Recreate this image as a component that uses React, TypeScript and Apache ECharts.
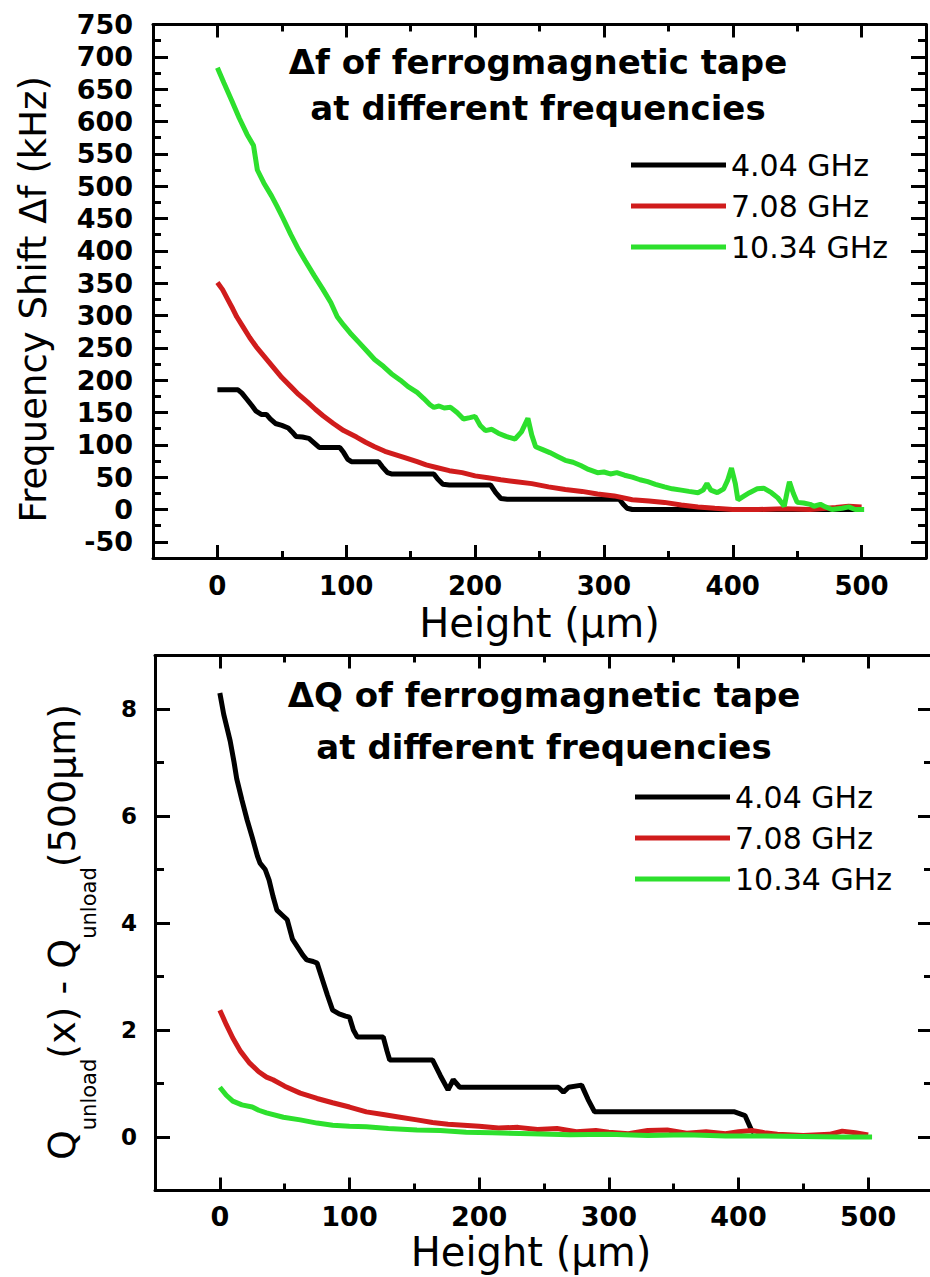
import React, { useEffect, useRef } from 'react';
import * as echarts from 'echarts';

const seriesNames = ['4.04 GHz', '7.08 GHz', '10.34 GHz'];
const seriesColors = ['#000000', '#d01c1c', '#2de02d'];

const xLabelValues = [0, 100, 200, 300, 400, 500];
const dfLabelValues = [-50, 0, 50, 100, 150, 200, 250, 300, 350, 400, 450, 500, 550, 600, 650, 700, 750];
const dqLabelValues = [0, 2, 4, 6, 8];

// Δf (kHz) vs height (µm)
const df404 = [
  [0, 185], [16, 185], [19, 180], [23, 170], [27, 160], [30, 152], [34, 147], [38, 147], [41, 140], [45, 133],
  [50, 130], [55, 126], [58, 120], [61, 113], [66, 112], [71, 110], [75, 103], [79, 96], [95, 96], [98, 88],
  [101, 78], [104, 74], [125, 74], [128, 66], [132, 57], [135, 55], [168, 55], [171, 47], [175, 39], [180, 38],
  [212, 38], [216, 26], [220, 17], [225, 16], [312, 16], [315, 8], [318, 2], [322, 0], [500, 0],
];
const df708 = [
  [0, 351], [4, 340], [8, 325], [12, 310], [15, 298], [20, 282], [25, 266], [30, 252], [35, 240], [40, 228],
  [45, 216], [50, 204], [57, 190], [63, 178], [70, 166], [76, 155], [82, 145], [90, 133], [98, 122], [108, 112],
  [115, 104], [122, 97], [130, 90], [138, 85], [146, 80], [155, 74], [162, 69], [170, 65], [180, 60], [190, 57],
  [200, 52], [210, 49], [220, 46], [232, 43], [244, 40], [257, 35], [270, 31], [283, 28], [295, 24], [308, 21],
  [322, 15], [335, 13], [347, 11], [360, 7], [373, 4], [386, 2], [400, 0], [420, 0], [440, 1], [460, 0],
  [480, 3], [490, 5], [500, 4],
];
const df1034 = [
  [0, 683], [5, 660], [11, 633], [17, 605], [23, 580], [28, 563], [31, 525], [36, 505], [42, 485], [46, 470],
  [51, 450], [57, 425], [63, 402], [68, 385], [75, 362], [82, 340], [88, 320], [93, 298], [98, 285], [103, 273],
  [110, 258], [116, 245], [122, 232], [129, 221], [135, 210], [142, 200], [148, 190], [155, 181], [160, 172], [165, 162],
  [168, 158], [172, 160], [176, 157], [181, 158], [186, 150], [191, 140], [196, 142], [200, 144], [204, 130], [208, 122],
  [213, 124], [218, 118], [224, 113], [231, 109], [236, 120], [241, 141], [244, 115], [247, 97], [252, 93], [258, 88],
  [264, 82], [270, 76], [276, 73], [282, 68], [288, 62], [295, 57], [300, 58], [305, 55], [310, 57], [316, 53],
  [322, 50], [328, 46], [334, 43], [340, 39], [347, 35], [353, 32], [360, 30], [366, 28], [373, 26], [377, 30],
  [380, 40], [383, 30], [388, 26], [393, 32], [396, 45], [399, 64], [402, 40], [404, 15], [408, 20], [413, 26],
  [419, 32], [424, 33], [430, 26], [435, 18], [440, 5], [442, 25], [444, 43], [447, 25], [450, 11], [455, 10],
  [460, 8], [463, 5], [468, 8], [472, 4], [477, 0], [485, 2], [490, 4], [495, 0], [502, 0],
];

// ΔQ vs height (µm)
const dq404 = [
  [0, 8.3], [3, 7.9], [6, 7.6], [8, 7.4], [11, 7.0], [13, 6.7], [17, 6.3], [21, 5.93], [25, 5.6], [29, 5.25],
  [31, 5.12], [35, 5.0], [38, 4.8], [41, 4.5], [44, 4.24], [48, 4.15], [52, 4.06], [56, 3.7], [60, 3.55], [64, 3.4],
  [67, 3.31], [72, 3.28], [75, 3.25], [79, 2.95], [83, 2.65], [87, 2.37], [92, 2.3], [97, 2.26], [100, 2.24], [103, 2.0],
  [106, 1.87], [126, 1.87], [129, 1.6], [131, 1.44], [164, 1.44], [170, 1.15], [176, 0.88], [180, 1.07], [185, 0.93], [261, 0.93],
  [265, 0.84], [269, 0.93], [279, 0.97], [284, 0.7], [289, 0.47], [397, 0.47], [405, 0.4], [410, 0.13], [412, 0.08],
];
const dq708 = [
  [0, 2.37], [5, 2.1], [10, 1.85], [16, 1.6], [23, 1.38], [30, 1.22], [36, 1.12], [41, 1.07], [50, 0.95], [62, 0.82],
  [75, 0.72], [87, 0.64], [100, 0.56], [113, 0.47], [126, 0.42], [139, 0.37], [152, 0.32], [164, 0.27], [176, 0.24], [188, 0.22],
  [200, 0.2], [215, 0.17], [230, 0.18], [245, 0.14], [260, 0.16], [275, 0.1], [290, 0.12], [300, 0.09], [315, 0.06], [330, 0.12],
  [345, 0.13], [360, 0.07], [375, 0.1], [390, 0.06], [400, 0.1], [410, 0.12], [420, 0.08], [430, 0.05], [450, 0.03], [470, 0.05],
  [480, 0.11], [490, 0.08], [500, 0.04],
];
const dq1034 = [
  [0, 0.93], [5, 0.78], [10, 0.67], [17, 0.6], [25, 0.56], [30, 0.5], [36, 0.45], [49, 0.37], [62, 0.32], [75, 0.26],
  [87, 0.22], [100, 0.2], [113, 0.19], [130, 0.16], [152, 0.13], [170, 0.12], [190, 0.09], [210, 0.08], [240, 0.06], [270, 0.04],
  [300, 0.05], [330, 0.03], [360, 0.04], [390, 0.02], [420, 0.02], [450, 0.01], [480, 0.0], [503, 0.0],
];

// pieces of the lower y-axis title (main text / subscript)
const dqNameParts = [
  { text: 'Q', sub: false },
  { text: 'unload', sub: true },
  { text: '(x) - Q', sub: false },
  { text: 'unload', sub: true },
  { text: '(500μm)', sub: false },
];

const FONT = 'DejaVu Sans';
const BLACK = '#000000';

type AxisCfg = {
  dim: 'x' | 'y';
  gridIndex: number;
  min: number;
  max: number;
  interval: number;
  majors: number[];
  majorLen: number;
  minorLen: number;
  labelFontSize: number;
  labelMargin: number;
  name?: string;
  nameGap?: number;
  nameTextStyle?: any;
};

function buildAxes(c: AxisCfg) {
  const mainPos = c.dim === 'x' ? 'bottom' : 'left';
  const oppPos = c.dim === 'x' ? 'top' : 'right';
  const line = { color: BLACK, width: 3 };
  const base = {
    type: 'value',
    gridIndex: c.gridIndex,
    min: c.min,
    max: c.max,
    interval: c.interval,
    splitLine: { show: false },
    axisLine: { show: false, onZero: false },
    axisLabel: { show: false },
  };
  const main: any = {
    ...base,
    position: mainPos,
    axisLine: { show: true, onZero: false, lineStyle: line },
    axisTick: { show: true, inside: true, length: c.majorLen, customValues: c.majors, lineStyle: line },
    axisLabel: {
      show: true,
      customValues: c.majors,
      margin: c.labelMargin,
      color: BLACK,
      fontFamily: FONT,
      fontWeight: 'bold',
      fontSize: c.labelFontSize,
    },
  };
  if (c.name) {
    main.name = c.name;
    main.nameLocation = 'middle';
    main.nameGap = c.nameGap;
    main.nameTextStyle = c.nameTextStyle;
    main.nameTruncate = { maxWidth: 2000 };
  }
  const minor = {
    ...base,
    position: mainPos,
    axisTick: { show: true, inside: true, length: c.minorLen, lineStyle: line },
  };
  const oppMajor = {
    ...base,
    position: oppPos,
    axisLine: { show: true, onZero: false, lineStyle: line },
    axisTick: { show: true, inside: true, length: c.majorLen, customValues: c.majors, lineStyle: line },
  };
  const oppMinor = {
    ...base,
    position: oppPos,
    axisTick: { show: true, inside: true, length: c.minorLen, lineStyle: line },
  };
  return [main, minor, oppMajor, oppMinor];
}

function lineSeries(name: string, color: string, data: number[][], axisIndex: number) {
  return {
    type: 'line',
    name,
    data,
    xAxisIndex: axisIndex,
    yAxisIndex: axisIndex,
    showSymbol: false,
    symbol: 'none',
    lineStyle: { color, width: 5 },
    itemStyle: { color },
    emphasis: { disabled: true },
  };
}

function legendAt(left: number, top: number) {
  return {
    orient: 'vertical',
    left,
    top,
    padding: 0,
    itemGap: 11,
    itemWidth: 95,
    itemHeight: 5,
    icon: 'rect',
    data: seriesNames,
    textStyle: { fontFamily: FONT, fontSize: 30, lineHeight: 30, color: BLACK },
  };
}

function buildDqName() {
  const mainSize = 38;
  const subSize = 21;
  const canvas = document.createElement('canvas');
  const ctx = canvas.getContext('2d');
  const measure = (t: string, size: number) => {
    if (!ctx) return t.length * size * 0.6;
    ctx.font = `${size}px "${FONT}"`;
    return ctx.measureText(t).width;
  };
  const widths = dqNameParts.map((p) => measure(p.text, p.sub ? subSize : mainSize));
  const total = widths.reduce((a, b) => a + b, 0);
  let cx = -total / 2;
  const children = dqNameParts.map((p, i) => {
    const el = {
      type: 'text',
      x: cx,
      y: p.sub ? 27 : 0,
      silent: true,
      style: {
        text: p.text,
        fontFamily: FONT,
        fontSize: p.sub ? subSize : mainSize,
        fill: BLACK,
        align: 'left',
        verticalAlign: 'middle',
      },
    };
    cx += widths[i];
    return el;
  });
  return {
    type: 'group',
    x: 62,
    y: 932,
    rotation: Math.PI / 2,
    children,
  };
}

export default function App() {
  const ref = useRef<HTMLDivElement>(null);

  useEffect(() => {
    if (!ref.current) return;
    const chart = echarts.init(ref.current, undefined, { renderer: 'svg' });

    const xName = 'Height (μm)';
    const topX = buildAxes({
      dim: 'x', gridIndex: 0, min: -50, max: 550, interval: 50, majors: xLabelValues,
      majorLen: 13, minorLen: 7, labelFontSize: 26, labelMargin: 15,
      name: xName, nameGap: 48,
      nameTextStyle: { fontFamily: FONT, fontSize: 40, lineHeight: 34, color: BLACK },
    });
    const topY = buildAxes({
      dim: 'y', gridIndex: 0, min: -75, max: 750, interval: 25, majors: dfLabelValues,
      majorLen: 15, minorLen: 8, labelFontSize: 27, labelMargin: 20,
      name: 'Frequency Shift Δf (kHz)', nameGap: 101,
      nameTextStyle: { fontFamily: FONT, fontSize: 37, lineHeight: 37, color: BLACK, padding: [0, 16, 0, 0] },
    });
    const botX = buildAxes({
      dim: 'x', gridIndex: 1, min: -50, max: 550, interval: 50, majors: xLabelValues,
      majorLen: 13, minorLen: 7, labelFontSize: 27, labelMargin: 12,
      name: xName, nameGap: 44,
      nameTextStyle: { fontFamily: FONT, fontSize: 40, lineHeight: 34, color: BLACK, padding: [0, 26, 0, 0] },
    });
    const botY = buildAxes({
      dim: 'y', gridIndex: 1, min: -1, max: 9, interval: 1, majors: dqLabelValues,
      majorLen: 15, minorLen: 9, labelFontSize: 23, labelMargin: 18,
    });

    const option: any = {
      animation: false,
      backgroundColor: '#ffffff',
      title: [
        {
          text: 'Δf of ferrogmagnetic tape\nat different frequencies',
          left: 538,
          top: 39,
          textAlign: 'center',
          padding: 0,
          textStyle: { fontFamily: FONT, fontWeight: 'bold', fontSize: 34, lineHeight: 46, color: BLACK },
        },
        {
          text: 'ΔQ of ferrogmagnetic tape\nat different frequencies',
          left: 544,
          top: 669,
          textAlign: 'center',
          padding: 0,
          textStyle: { fontFamily: FONT, fontWeight: 'bold', fontSize: 34, lineHeight: 52, color: BLACK },
        },
      ],
      legend: [legendAt(631, 150), legendAt(635, 782)],
      grid: [
        { left: 153, top: 24.5, width: 773, height: 533.5, containLabel: false, outerBoundsMode: 'none' },
        { left: 155, top: 655.5, width: 778, height: 535, containLabel: false, outerBoundsMode: 'none' },
      ],
      xAxis: [...topX, ...botX],
      yAxis: [...topY, ...botY],
      graphic: [buildDqName()],
      series: [
        lineSeries(seriesNames[0], seriesColors[0], df404, 0),
        lineSeries(seriesNames[1], seriesColors[1], df708, 0),
        lineSeries(seriesNames[2], seriesColors[2], df1034, 0),
        lineSeries(seriesNames[0], seriesColors[0], dq404, 4),
        lineSeries(seriesNames[1], seriesColors[1], dq708, 4),
        lineSeries(seriesNames[2], seriesColors[2], dq1034, 4),
      ],
    };

    chart.setOption(option);
    return () => {
      chart.dispose();
    };
  }, []);

  return (
    <div
      ref={ref}
      style={{ position: 'absolute', left: 0, top: 0, width: 930, height: 1277, background: '#fff' }}
    />
  );
}
